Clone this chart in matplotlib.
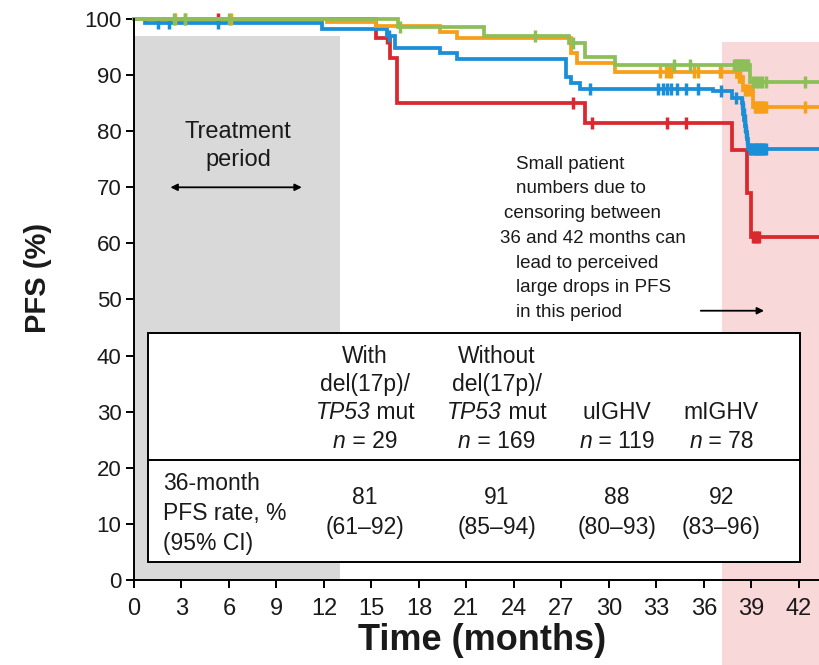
import matplotlib
matplotlib.use("Agg")
import matplotlib.pyplot as plt
from matplotlib.patches import Rectangle
from matplotlib.transforms import offset_copy
import numpy as np

plt.rcParams['font.family'] = ['Liberation Sans', 'DejaVu Sans']

# Kaplan-Meier step curves (month, PFS %), value holds until next month
red_t = [0, 15.3, 16.2, 16.6, 28.5, 37.8, 38.7, 39.0, 43.3]
red_s = [100, 96.6, 93.0, 85.1, 81.4, 76.6, 69.0, 61.1, 61.1]
red_cens = [5.3, 16.0, 27.7, 28.9, 33.7, 34.9, 39.1, 39.2, 39.35, 39.5]

blue_t = [0, 0.7, 11.9, 16.0, 16.5, 19.3, 20.4, 27.3, 27.6, 28.2, 36.6, 37.8,
          38.4, 38.45, 38.5, 38.55, 38.6, 38.65, 38.7, 38.8, 43.3]
blue_s = [100, 99.2, 98.3, 96.9, 94.9, 93.9, 92.9, 89.7, 88.6, 87.6, 87.1, 86.0,
          85.0, 84.0, 83.0, 82.0, 81.0, 79.8, 78.6, 76.8, 76.8]
blue_cens = [1.5, 2.2, 5.3, 16.1, 28.8, 33.1, 33.4, 33.7, 33.9, 34.3, 34.9, 35.6,
             37.1, 38.0, 38.42, 38.47, 38.52, 38.57, 38.62, 38.67, 38.75,
             38.9, 39.0, 39.1, 39.2, 39.3, 39.4, 39.5, 39.6, 39.7, 39.8, 39.9]

orange_t = [0, 12.2, 15.3, 19.3, 20.4, 27.6, 28.0, 30.4, 38.1, 38.5, 39.1, 43.3]
orange_s = [100, 99.4, 98.8, 97.6, 96.6, 94.0, 92.1, 90.6, 89.7, 87.3, 84.4, 84.4]
orange_cens = [2.6, 3.2, 6.1, 33.2, 33.6, 33.8, 33.95, 35.4, 35.6, 37.0, 37.1,
               38.2, 38.3, 38.6, 38.7, 38.9, 39.2, 39.3, 39.4, 39.5, 39.6, 39.7,
               39.8, 39.9, 42.4]

green_t = [0, 16.7, 22.1, 27.5, 28.5, 30.4, 38.9, 43.3]
green_s = [100, 98.6, 97.0, 95.8, 93.3, 91.8, 88.8, 88.8]
green_cens = [2.5, 3.2, 6.0, 16.8, 25.3, 27.7, 34.1, 35.1, 37.9, 38.0, 38.1,
              38.2, 38.3, 38.4, 38.5, 38.6, 38.7, 38.8, 39.1, 39.3, 39.5, 39.7,
              39.9, 42.4]

xticks = list(range(0, 43, 3))
yticks = list(range(0, 101, 10))

# table text, *...* marks italic runs
col_heads = [["With", "del(17p)/", "*TP53* mut", "*n* = 29"],
             ["Without", "del(17p)/", "*TP53* mut", "*n* = 169"],
             ["uIGHV", "*n* = 119"],
             ["mIGHV", "*n* = 78"]]
rate = ["81", "91", "88", "92"]
ci = ["(61–92)", "(85–94)", "(80–93)", "(83–96)"]
row_label = ["36-month", "PFS rate, %", "(95% CI)"]
note = ["Small patient", "numbers due to", "censoring between",
        "36 and 42 months can", "lead to perceived", "large drops in PFS",
        "in this period"]
note_x = [24.1, 24.1, 23.4, 23.1, 24.1, 24.1, 24.1]

RED, BLUE, ORANGE, GREEN = '#d9282e', '#1a8ed6', '#f6a01a', '#8dbf59'
TXT = '#1a1a1a'

fig = plt.figure(figsize=(8.19, 6.65), dpi=100)
ax = fig.add_axes([134 / 819, 1 - 580 / 665, 1 - 134 / 819, 561 / 665])
ax.set_xlim(0, 43.27)
ax.set_ylim(0, 100)
renderer = fig.canvas.get_renderer()

# shaded periods
ax.add_patch(Rectangle((0, 0), 13.0, 97, fc='#d9d9d9', ec='none', zorder=0))
ax.add_patch(Rectangle((37.15, -15.5), 7, 111.4, fc='#f9d8da', ec='none',
                       zorder=0, clip_on=False))


def km(t, s, cens, color):
    ax.step(t, s, where='post', color=color, lw=2.7, zorder=3, clip_on=False,
            solid_joinstyle='miter')
    idx = np.searchsorted(t, cens, side='right') - 1
    ax.plot(cens, np.array(s)[idx], ls='none', marker='|', ms=9, mew=2.5,
            color=color, zorder=3, clip_on=False)


km(red_t, red_s, red_cens, RED)
km(blue_t, blue_s, blue_cens, BLUE)
km(orange_t, orange_s, orange_cens, ORANGE)
km(green_t, green_s, green_cens, GREEN)


def rich_line(x, y, line, size=16.5):
    # centred line made of upright and italic runs
    parts = line.split('*')
    texts = []
    for k, p in enumerate(parts):
        if not p:
            continue
        texts.append(ax.text(x, y, p, style='italic' if k % 2 else 'normal',
                             ha='left', va='baseline', fontsize=size,
                             color=TXT, zorder=7))
    widths = [t.get_window_extent(renderer).width for t in texts]
    start = -sum(widths) / 2
    for t, w in zip(texts, widths):
        t.set_transform(offset_copy(ax.transData, fig=fig, x=start, y=0,
                                    units='dots'))
        start += w


# treatment period
ax.text(6.57, 78.8, "Treatment", ha='center', va='baseline', fontsize=17, color=TXT)
ax.text(6.57, 73.8, "period", ha='center', va='baseline', fontsize=17, color=TXT)
ax.annotate("", xy=(2.3, 70), xytext=(10.6, 70),
            arrowprops=dict(arrowstyle='<|-|>', color='black', lw=1.3,
                            mutation_scale=10, shrinkA=0, shrinkB=0))

# censoring note
for i, (line, x) in enumerate(zip(note, note_x)):
    ax.text(x, 73.3 - 4.4 * i, line, ha='left', va='baseline', fontsize=13.5,
            color=TXT)
ax.annotate("", xy=(39.8, 48.0), xytext=(35.8, 48.0),
            arrowprops=dict(arrowstyle='-|>', color='black', lw=1.3,
                            mutation_scale=10, shrinkA=0, shrinkB=0))

# summary table
ax.add_patch(Rectangle((0.88, 3.2), 41.19, 40.8, fc='white', ec='black',
                       lw=1.4, zorder=5))
ax.plot([0.88, 42.07], [21.4, 21.4], color='black', lw=1.4, zorder=6)
col_x = [14.6, 22.9, 30.5, 37.1]
head_y = [38.7, 33.7, 28.7, 23.5]
for x, head in zip(col_x, col_heads):
    for j, line in enumerate(head):
        rich_line(x, head_y[len(head_y) - len(head) + j], line)
for x, r, c in zip(col_x, rate, ci):
    ax.text(x, 13.5, r, ha='center', va='baseline', fontsize=16.5, color=TXT, zorder=7)
    ax.text(x, 8.2, c, ha='center', va='baseline', fontsize=16.5, color=TXT, zorder=7)
for j, line in enumerate(row_label):
    ax.text(1.83, 16.0 - 5.3 * j, line, ha='left', va='baseline', fontsize=16.5,
            color=TXT, zorder=7)

for side in ['top', 'right']:
    ax.spines[side].set_visible(False)
for side in ['left', 'bottom']:
    ax.spines[side].set_linewidth(1.4)
    ax.spines[side].set_zorder(4)

ax.set_xticks(xticks)
ax.set_yticks(yticks)
ax.tick_params(direction='out', length=6, width=1.4, colors='black')
ax.tick_params(axis='y', labelsize=16, pad=3, labelcolor=TXT)
ax.tick_params(axis='x', labelsize=17, pad=7, labelcolor=TXT)

fig.text(38 / 819, 1 - 278 / 665, "PFS (%)", rotation=90, ha='center',
         va='center', fontsize=21, fontweight='bold', color=TXT)
fig.text(482 / 819, 1 - 641 / 665, "Time (months)", ha='center', va='center',
         fontsize=26, fontweight='bold', color=TXT)

fig.savefig("out.png", dpi=100)
